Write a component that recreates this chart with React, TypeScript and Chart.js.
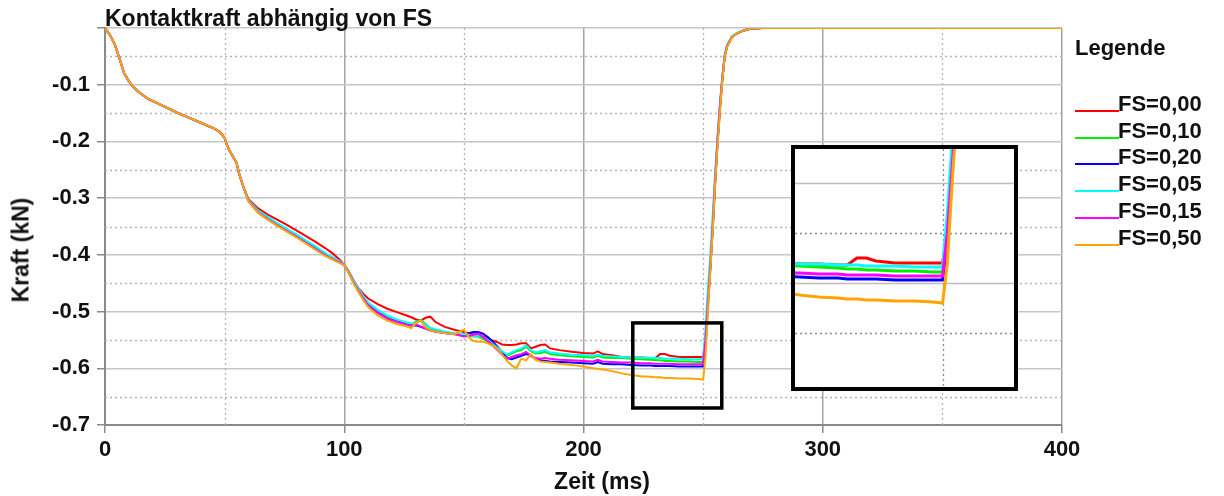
import React, { useEffect, useRef } from "react";
import { Chart, registerables } from "chart.js";

Chart.register(...registerables);

// ---------- data ----------
const zeit = [
  0, 2, 4, 6, 8, 10, 12, 15, 18, 22,
  26, 30, 35, 40, 45, 48, 50, 51, 52, 53,
  55, 56, 58, 60, 64, 68, 72, 76, 80, 84,
  88, 92, 95, 98, 100, 102, 104, 106, 108, 110,
  114, 118, 122, 126, 128, 130, 132, 134, 136, 138,
  142, 146, 148, 150, 152, 154, 156, 158, 160, 162,
  164, 166, 168, 170, 172, 174, 176, 178, 180, 182,
  184, 186, 190, 195, 200, 204, 206, 208, 212, 216,
  220, 224, 228, 230, 232, 234, 236, 240, 244, 248,
  250, 251, 252, 253, 254, 255, 256, 257, 258, 259,
  260, 262, 264, 266, 268, 270, 275, 300, 350, 400,
];

// common start (0 .. 58 ms), identical for all series
const anfang = [
  0, -0.012, -0.028, -0.053, -0.080, -0.094, -0.105, -0.116, -0.125, -0.133,
  -0.141, -0.149, -0.158, -0.167, -0.176, -0.183, -0.194, -0.206, -0.216, -0.223,
  -0.238, -0.256, -0.282,
];

const fs000 = [
  ...anfang,
  -0.302, -0.318, -0.329, -0.338, -0.347, -0.357, -0.367, -0.377, -0.388, -0.397, -0.408, -0.418,
  -0.430, -0.446, -0.459, -0.469, -0.477, -0.487, -0.495, -0.501, -0.507, -0.510,
  -0.514, -0.516, -0.511, -0.509, -0.518, -0.527, -0.532, -0.534, -0.536, -0.538,
  -0.540, -0.541, -0.544, -0.548, -0.551, -0.554, -0.558, -0.559, -0.559, -0.558,
  -0.556, -0.556, -0.565, -0.562, -0.559, -0.558, -0.565, -0.568, -0.571, -0.573,
  -0.574, -0.570, -0.575, -0.577, -0.580, -0.581, -0.581, -0.582, -0.582, -0.575,
  -0.575, -0.578, -0.580, -0.580, -0.580, -0.580,
  -0.550, -0.480, -0.420, -0.350, -0.270, -0.200, -0.140, -0.090, -0.050, -0.032,
  -0.016, -0.010, -0.006, -0.003, -0.001, 0, 0, 0, 0,
];

const fs010 = [
  ...anfang,
  -0.304, -0.323, -0.335, -0.346, -0.356, -0.366, -0.377, -0.387, -0.399, -0.405, -0.412, -0.418,
  -0.431, -0.448, -0.462, -0.475, -0.486, -0.499, -0.509, -0.516, -0.521, -0.523,
  -0.518, -0.515, -0.522, -0.530, -0.533, -0.537, -0.539, -0.540, -0.541, -0.542,
  -0.544, -0.544, -0.548, -0.553, -0.560, -0.566, -0.572, -0.578, -0.574, -0.570,
  -0.568, -0.562, -0.570, -0.574, -0.573, -0.571, -0.575, -0.577, -0.579, -0.580,
  -0.581, -0.578, -0.581, -0.582, -0.582, -0.583, -0.584, -0.585, -0.586, -0.586,
  -0.587, -0.587, -0.588, -0.588, -0.589, -0.589,
  -0.550, -0.480, -0.420, -0.350, -0.270, -0.200, -0.140, -0.090, -0.050, -0.032,
  -0.016, -0.010, -0.006, -0.003, -0.001, 0, 0, 0, 0,
];

const fs020 = [
  ...anfang,
  -0.305, -0.325, -0.337, -0.348, -0.358, -0.368, -0.379, -0.390, -0.400, -0.407, -0.413, -0.418,
  -0.432, -0.449, -0.464, -0.477, -0.489, -0.502, -0.512, -0.518, -0.523, -0.525,
  -0.524, -0.527, -0.530, -0.533, -0.535, -0.538, -0.539, -0.540, -0.541, -0.538,
  -0.536, -0.536, -0.539, -0.545, -0.553, -0.562, -0.572, -0.582, -0.584, -0.581,
  -0.578, -0.575, -0.577, -0.584, -0.586, -0.587, -0.588, -0.589, -0.590, -0.591,
  -0.592, -0.589, -0.592, -0.593, -0.593, -0.594, -0.595, -0.595, -0.596, -0.596,
  -0.596, -0.596, -0.597, -0.597, -0.597, -0.597,
  -0.560, -0.490, -0.425, -0.355, -0.275, -0.205, -0.145, -0.092, -0.050, -0.033,
  -0.016, -0.010, -0.006, -0.003, -0.001, 0, 0, 0, 0,
];

const fs005 = [
  ...anfang,
  -0.303, -0.322, -0.333, -0.344, -0.354, -0.364, -0.375, -0.385, -0.397, -0.404, -0.411, -0.418,
  -0.430, -0.446, -0.460, -0.473, -0.484, -0.497, -0.507, -0.514, -0.519, -0.521,
  -0.520, -0.516, -0.524, -0.529, -0.531, -0.535, -0.538, -0.539, -0.540, -0.541,
  -0.543, -0.542, -0.545, -0.550, -0.557, -0.564, -0.570, -0.576, -0.572, -0.568,
  -0.565, -0.560, -0.568, -0.572, -0.570, -0.568, -0.572, -0.574, -0.576, -0.577,
  -0.578, -0.576, -0.578, -0.579, -0.580, -0.581, -0.581, -0.582, -0.582, -0.582,
  -0.583, -0.583, -0.583, -0.584, -0.584, -0.584,
  -0.530, -0.460, -0.400, -0.330, -0.255, -0.190, -0.135, -0.085, -0.047, -0.030,
  -0.015, -0.009, -0.005, -0.002, -0.001, 0, 0, 0, 0,
];

const fs015 = [
  ...anfang,
  -0.305, -0.325, -0.337, -0.348, -0.358, -0.368, -0.379, -0.390, -0.401, -0.407, -0.413, -0.418,
  -0.432, -0.449, -0.464, -0.477, -0.489, -0.502, -0.512, -0.518, -0.523, -0.525,
  -0.523, -0.526, -0.530, -0.533, -0.535, -0.538, -0.540, -0.542, -0.544, -0.543,
  -0.541, -0.539, -0.545, -0.552, -0.560, -0.568, -0.576, -0.583, -0.580, -0.577,
  -0.575, -0.571, -0.578, -0.582, -0.583, -0.582, -0.583, -0.585, -0.586, -0.587,
  -0.588, -0.585, -0.588, -0.589, -0.590, -0.590, -0.591, -0.591, -0.592, -0.592,
  -0.592, -0.592, -0.593, -0.593, -0.593, -0.593,
  -0.550, -0.485, -0.420, -0.350, -0.270, -0.200, -0.140, -0.090, -0.050, -0.032,
  -0.016, -0.010, -0.006, -0.003, -0.001, 0, 0, 0, 0,
];

const fs050 = [
  ...anfang,
  -0.306, -0.326, -0.338, -0.349, -0.359, -0.369, -0.380, -0.391, -0.402, -0.408, -0.414, -0.418,
  -0.433, -0.451, -0.466, -0.480, -0.492, -0.507, -0.516, -0.522, -0.526, -0.529,
  -0.520, -0.516, -0.528, -0.533, -0.535, -0.538, -0.540, -0.536, -0.532, -0.545,
  -0.552, -0.553, -0.553, -0.556, -0.560, -0.566, -0.576, -0.587, -0.595, -0.600,
  -0.583, -0.586, -0.575, -0.585, -0.588, -0.589, -0.590, -0.592, -0.594, -0.597,
  -0.600, -0.601, -0.602, -0.605, -0.609, -0.612, -0.614, -0.615, -0.616, -0.616,
  -0.617, -0.617, -0.618, -0.618, -0.619, -0.620,
  -0.580, -0.500, -0.430, -0.360, -0.280, -0.210, -0.150, -0.095, -0.052, -0.034,
  -0.017, -0.010, -0.006, -0.003, -0.001, 0, 0, 0, 0,
];

const reihenNamen = ["FS=0,00", "FS=0,10", "FS=0,20", "FS=0,05", "FS=0,15", "FS=0,50"];
const reihenFarben = ["#ff0000", "#00ee00", "#0000ff", "#00ffff", "#ff00ff", "#ffa500"];
const reihenWerte = [fs000, fs010, fs020, fs005, fs015, fs050];

const xTickSchritt = 100;
const yTickSchritt = 0.1;
const xBereich = [0, 400];
const yBereich = [-0.7, 0];
const xNebenlinien = [50, 150, 250, 350];
const yNebenlinien = [-0.05, -0.15, -0.25, -0.35, -0.45, -0.55, -0.65];

// zoom window (data coordinates) marked in the main chart
const zoomRahmenX = [220.6, 257.8];
const zoomRahmenY = [-0.670, -0.520];
// range shown in the enlarged inset
const insetX = [219, 265];
const insetY = [-0.704, -0.466];
const insetHauptlinienY = [-0.5, -0.6];
const insetNebenlinienY = [-0.55, -0.65];
const insetNebenlinienX = [250];

const FONT = "'Liberation Sans', Arial, Helvetica, sans-serif";

type GitterCfg = {
  xDash?: number[];
  yDash?: number[];
  ySolid?: number[];
  dashColor: string;
  solidColor?: string;
  rahmen?: { x: number[]; y: number[] };
};

function makeGitterPlugin(cfg: GitterCfg) {
  return {
    id: "gitter",
    beforeDatasetsDraw(chart: any) {
      const { ctx, chartArea: a, scales } = chart;
      const xs = scales.x;
      const ys = scales.y;
      ctx.save();
      ctx.beginPath();
      ctx.rect(a.left, a.top, a.right - a.left, a.bottom - a.top);
      ctx.clip();
      const linie = (x1: number, y1: number, x2: number, y2: number) => {
        ctx.beginPath();
        ctx.moveTo(x1, y1);
        ctx.lineTo(x2, y2);
        ctx.stroke();
      };
      if (cfg.ySolid) {
        ctx.setLineDash([]);
        ctx.strokeStyle = cfg.solidColor || "#c0c0c0";
        ctx.lineWidth = 1.5;
        cfg.ySolid.forEach((v) => {
          const py = Math.round(ys.getPixelForValue(v)) + 0.5;
          linie(a.left, py, a.right, py);
        });
      }
      ctx.setLineDash([2, 3]);
      ctx.strokeStyle = cfg.dashColor;
      ctx.lineWidth = 1.3;
      (cfg.xDash || []).forEach((v) => {
        const px = Math.round(xs.getPixelForValue(v)) + 0.5;
        linie(px, a.top, px, a.bottom);
      });
      (cfg.yDash || []).forEach((v) => {
        const py = Math.round(ys.getPixelForValue(v)) + 0.5;
        linie(a.left, py, a.right, py);
      });
      ctx.restore();
    },
    afterDatasetsDraw(chart: any) {
      if (!cfg.rahmen) return;
      const { ctx, scales } = chart;
      const x1 = scales.x.getPixelForValue(cfg.rahmen.x[0]);
      const x2 = scales.x.getPixelForValue(cfg.rahmen.x[1]);
      const y1 = scales.y.getPixelForValue(cfg.rahmen.y[1]);
      const y2 = scales.y.getPixelForValue(cfg.rahmen.y[0]);
      ctx.save();
      ctx.strokeStyle = "#000";
      ctx.lineWidth = 3.5;
      ctx.setLineDash([]);
      ctx.strokeRect(x1, y1, x2 - x1, y2 - y1);
      ctx.restore();
    },
  };
}

function datensaetze(breite: number) {
  return reihenWerte.map((werte, i) => ({
    label: reihenNamen[i],
    data: zeit.map((t, k) => ({ x: t, y: werte[k] })),
    borderColor: reihenFarben[i],
    backgroundColor: reihenFarben[i],
    borderWidth: breite,
    pointRadius: 0,
    tension: 0,
    fill: false,
    order: reihenWerte.length - i,
  }));
}

function Hauptdiagramm() {
  const ref = useRef<HTMLCanvasElement | null>(null);
  useEffect(() => {
    if (!ref.current) return;
    const tickFont = { family: FONT, size: 22, weight: "bold" as const };
    const chart = new Chart(ref.current, {
      type: "line",
      data: { datasets: datensaetze(2) as any },
      options: {
        responsive: false,
        maintainAspectRatio: false,
        animation: false,
        layout: { padding: { top: 28, right: 162, left: 0, bottom: 0 } },
        plugins: {
          legend: { display: false },
          title: { display: false },
          tooltip: { enabled: false },
        },
        scales: {
          x: {
            type: "linear",
            min: xBereich[0],
            max: xBereich[1],
            ticks: {
              stepSize: xTickSchritt,
              font: tickFont,
              color: "#111",
              padding: 4,
              maxRotation: 0,
            },
            grid: {
              color: "#a4a4a4",
              lineWidth: 1.5,
              tickLength: 8,
              tickColor: "#8a8a8a",
            },
            border: { color: "#8a8a8a", width: 2 },
            afterFit: (s: any) => {
              s.height = 71;
            },
          },
          y: {
            type: "linear",
            min: yBereich[0],
            max: yBereich[1],
            ticks: {
              stepSize: yTickSchritt,
              font: tickFont,
              color: "#111",
              padding: 7,
              callback: (v: any) =>
                Math.abs(Number(v)) < 1e-9 ? "" : Number(v).toFixed(1),
            },
            grid: {
              color: "#c6c6c6",
              lineWidth: 1.5,
              tickLength: 8,
              tickColor: "#8a8a8a",
            },
            border: { color: "#8a8a8a", width: 2 },
            afterFit: (s: any) => {
              s.width = 105;
            },
          },
        },
      } as any,
      plugins: [
        makeGitterPlugin({
          xDash: xNebenlinien,
          yDash: yNebenlinien,
          dashColor: "#b4b4b4",
          rahmen: { x: zoomRahmenX, y: zoomRahmenY },
        }) as any,
      ],
    });
    return () => chart.destroy();
  }, []);
  return (
    <canvas
      ref={ref}
      width={1224}
      height={496}
      style={{ position: "absolute", left: 0, top: 0, width: 1224, height: 496 }}
    />
  );
}

function Ausschnitt() {
  const ref = useRef<HTMLCanvasElement | null>(null);
  useEffect(() => {
    if (!ref.current) return;
    const chart = new Chart(ref.current, {
      type: "line",
      data: { datasets: datensaetze(3) as any },
      options: {
        responsive: false,
        maintainAspectRatio: false,
        animation: false,
        layout: { padding: 0 },
        plugins: {
          legend: { display: false },
          title: { display: false },
          tooltip: { enabled: false },
        },
        scales: {
          x: { type: "linear", min: insetX[0], max: insetX[1], display: false },
          y: { type: "linear", min: insetY[0], max: insetY[1], display: false },
        },
      } as any,
      plugins: [
        makeGitterPlugin({
          ySolid: insetHauptlinienY,
          solidColor: "#bdbdbd",
          yDash: insetNebenlinienY,
          xDash: insetNebenlinienX,
          dashColor: "#8c8c8c",
        }) as any,
      ],
    });
    return () => chart.destroy();
  }, []);
  return (
    <div
      style={{
        position: "absolute",
        left: 791,
        top: 145,
        width: 219,
        height: 238,
        border: "4px solid #000",
        background: "#fff",
      }}
    >
      <canvas ref={ref} width={219} height={238} style={{ display: "block", width: 219, height: 238 }} />
    </div>
  );
}

const textBasis: React.CSSProperties = {
  position: "absolute",
  fontFamily: FONT,
  fontWeight: "bold",
  lineHeight: 1,
  whiteSpace: "nowrap",
  color: "#111",
};

export default function App() {
  return (
    <div
      style={{
        position: "absolute",
        left: 0,
        top: 0,
        width: 1224,
        height: 496,
        background: "#fff",
        overflow: "hidden",
      }}
    >
      <Hauptdiagramm />
      <Ausschnitt />
      <div style={{ ...textBasis, left: 105, top: 7, fontSize: 23 }}>
        Kontaktkraft abhängig von FS
      </div>
      <div
        style={{
          ...textBasis,
          left: 21,
          top: 250,
          fontSize: 23,
          transform: "translate(-50%, -50%) rotate(-90deg)",
        }}
      >
        Kraft (kN)
      </div>
      <div
        style={{
          ...textBasis,
          left: 602,
          top: 470,
          fontSize: 23,
          transform: "translateX(-50%)",
        }}
      >
        Zeit (ms)
      </div>
      <div style={{ ...textBasis, left: 1075, top: 37, fontSize: 22 }}>Legende</div>
      {reihenNamen.map((name, i) => (
        <React.Fragment key={name}>
          <div
            style={{
              position: "absolute",
              left: 1075,
              top: 110 + i * 26.7,
              width: 44,
              height: 2,
              background: reihenFarben[i],
            }}
          />
          <div style={{ ...textBasis, left: 1118, top: 93 + i * 26.7, fontSize: 22 }}>
            {name}
          </div>
        </React.Fragment>
      ))}
    </div>
  );
}
